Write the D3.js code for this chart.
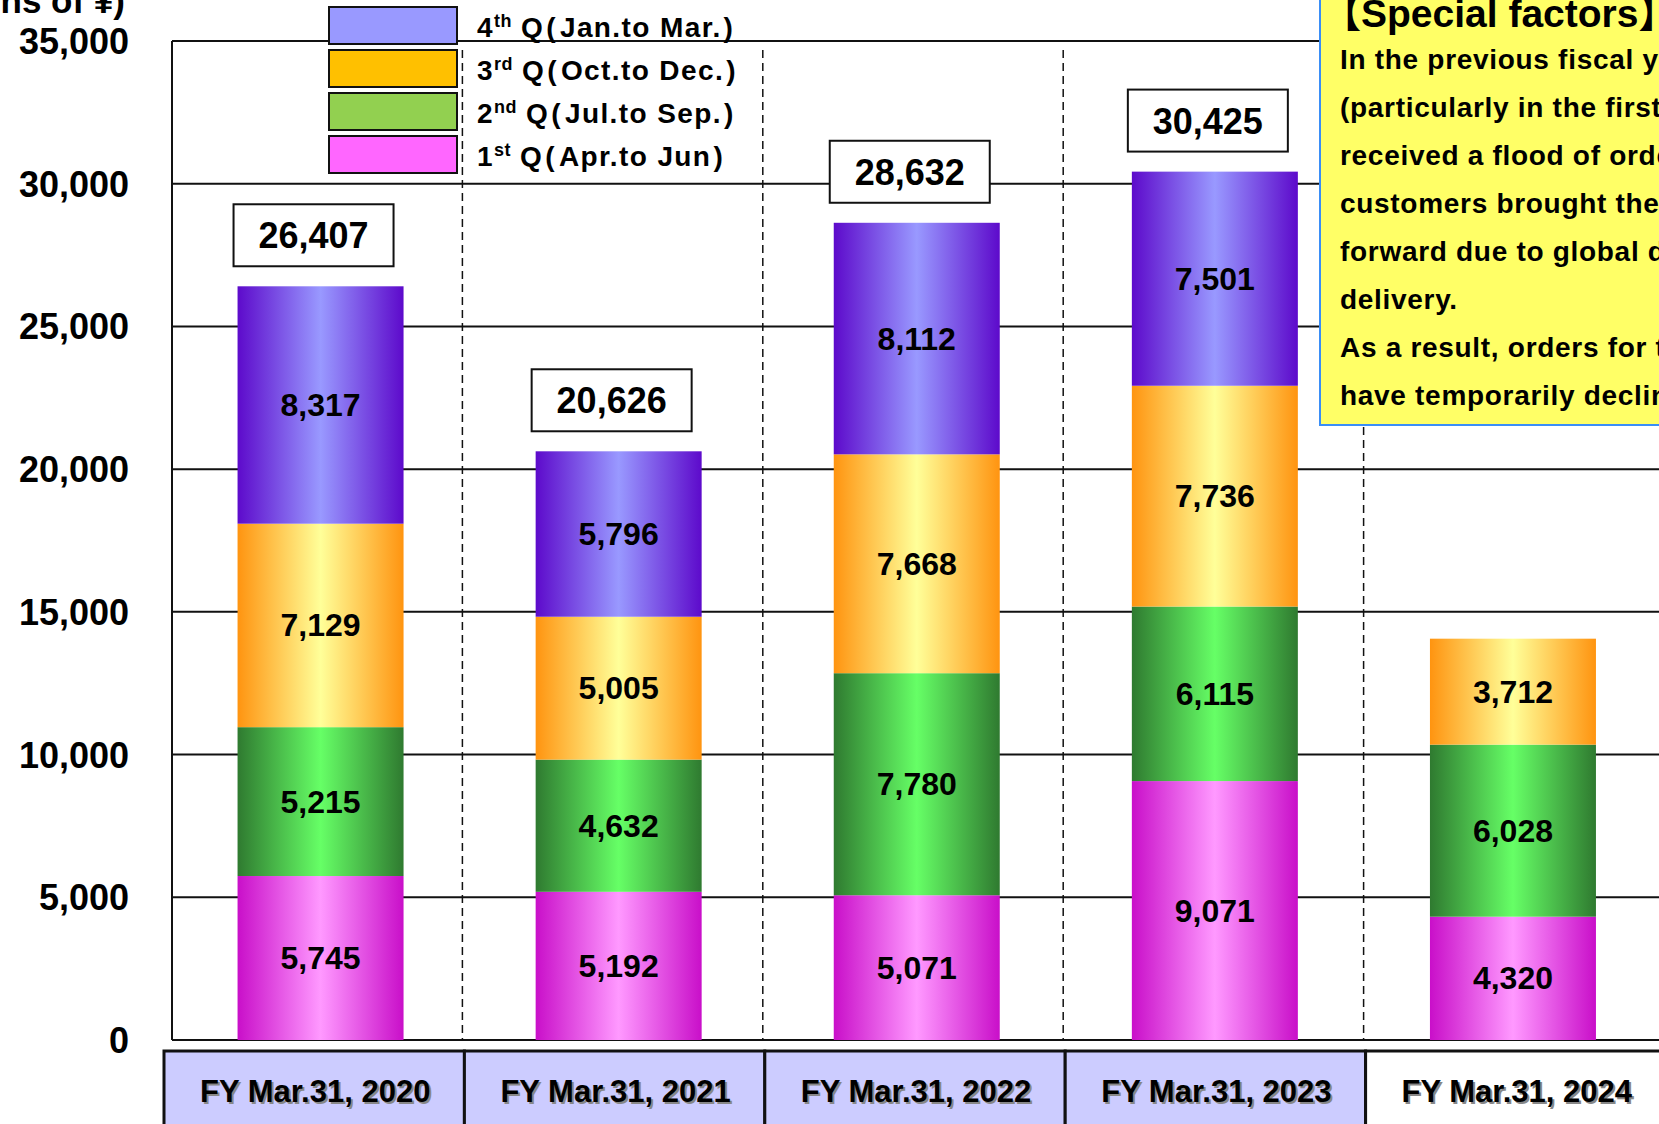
<!DOCTYPE html>
<html>
<head>
<script src="https://cdnjs.cloudflare.com/ajax/libs/d3/7.8.5/d3.min.js"></script>
<style>
  html, body { margin: 0; padding: 0; background: #fff; }
  svg { display: block; font-family: "Liberation Sans", Arial, "Noto Sans CJK JP", sans-serif; font-weight: bold; }
</style>
</head>
<body>
<svg id="chart" width="1659" height="1124"></svg>
<script>
// data (millions of yen)
var years = ["FY Mar.31, 2020", "FY Mar.31, 2021", "FY Mar.31, 2022", "FY Mar.31, 2023", "FY Mar.31, 2024"];
var q1 = [5745, 5192, 5071, 9071, 4320];
var q2 = [5215, 4632, 7780, 6115, 6028];
var q3 = [7129, 5005, 7668, 7736, 3712];
var q4 = [8317, 5796, 8112, 7501, null];
var totals = [26407, 20626, 28632, 30425, null];
var yTicks = [0, 5000, 10000, 15000, 20000, 25000, 30000, 35000];

var quarters = [
  {key: "q1", label: "1", sup: "st", text: "Apr.to Jun", values: q1, legend: "#ff66ff", dark: "#c90fc9", light: "#ff99ff"},
  {key: "q2", label: "2", sup: "nd", text: "Jul.to Sep.", values: q2, legend: "#92d050", dark: "#2f7a30", light: "#66ff66"},
  {key: "q3", label: "3", sup: "rd", text: "Oct.to Dec.", values: q3, legend: "#ffc000", dark: "#ff9410", light: "#ffff99"},
  {key: "q4", label: "4", sup: "th", text: "Jan.to Mar.", values: q4, legend: "#9999ff", dark: "#5d0acb", light: "#9999ff"}
];

var notes = [
  "In the previous fiscal year",
  "(particularly in the first half), we",
  "received a flood of orders as",
  "customers brought their orders",
  "forward due to global delays in",
  "delivery.",
  "As a result, orders for this fiscal year",
  "have temporarily declined."
];

var svg = d3.select("#chart");
var fmt = d3.format(",");

var plotLeft = 172, plotRight = 1659, plotTop = 41, plotBottom = 1040;
var y = d3.scaleLinear().domain([0, 35000]).range([plotBottom, plotTop]);
var x = d3.scaleBand().domain(years).range([162, 1664]);      // category cells
var xb = d3.scaleBand().domain(years).range([171.5, 1662]);   // bar slots
var barW = 166;

// gradients
var defs = svg.append("defs");
quarters.forEach(function(q) {
  var g = defs.append("linearGradient").attr("id", "grad_" + q.key)
    .attr("x1", "0").attr("x2", "1").attr("y1", "0").attr("y2", "0");
  g.append("stop").attr("offset", "0").attr("stop-color", q.dark);
  g.append("stop").attr("offset", "0.5").attr("stop-color", q.light);
  g.append("stop").attr("offset", "1").attr("stop-color", q.dark);
});

// gridlines
svg.selectAll(".grid").data(yTicks).enter().append("line")
  .attr("x1", plotLeft).attr("x2", plotRight)
  .attr("y1", function(d){ return y(d); }).attr("y2", function(d){ return y(d); })
  .attr("stroke", "#111").attr("stroke-width", 2);

svg.append("line").attr("x1", plotLeft).attr("x2", plotLeft)
  .attr("y1", plotTop).attr("y2", plotBottom)
  .attr("stroke", "#111").attr("stroke-width", 2);

// dashed separators
svg.selectAll(".sep").data(years.slice(1)).enter().append("line")
  .attr("x1", function(d){ return x(d); }).attr("x2", function(d){ return x(d); })
  .attr("y1", 50).attr("y2", plotBottom)
  .attr("stroke", "#111").attr("stroke-width", 1.5)
  .attr("stroke-dasharray", "8,5");

// y tick labels
svg.selectAll(".ytick").data(yTicks).enter().append("text")
  .attr("x", 129).attr("y", function(d){ return y(d) + 13; })
  .attr("text-anchor", "end").attr("font-size", 36)
  .text(function(d){ return fmt(d); });

svg.append("text").attr("x", 125).attr("y", 13)
  .attr("text-anchor", "end").attr("font-size", 35)
  .text("(Millions of ¥)");

// stacked bars
var rows = years.map(function(yr, i) {
  var r = {year: yr};
  quarters.forEach(function(q){ r[q.key] = q.values[i] || 0; });
  return r;
});
var stack = d3.stack().keys(quarters.map(function(q){ return q.key; }));
var series = stack(rows);

var layers = svg.selectAll(".layer").data(series).enter().append("g")
  .attr("fill", function(d){ return "url(#grad_" + d.key + ")"; });

layers.selectAll("rect").data(function(d){ return d.filter(function(s){ return s[1] > s[0]; }); })
  .enter().append("rect")
  .attr("x", function(d){ return xb(d.data.year) + xb.bandwidth() / 2 - barW / 2; })
  .attr("width", barW)
  .attr("y", function(d){ return y(d[1]); })
  .attr("height", function(d){ return y(d[0]) - y(d[1]); });

layers.selectAll("text").data(function(d){ return d.filter(function(s){ return s[1] > s[0]; }); })
  .enter().append("text")
  .attr("x", function(d){ return xb(d.data.year) + xb.bandwidth() / 2; })
  .attr("y", function(d){ return (y(d[0]) + y(d[1])) / 2 + 11; })
  .attr("text-anchor", "middle").attr("font-size", 32).attr("fill", "#000")
  .text(function(d){ return fmt(d[1] - d[0]); });

// total boxes
var totalData = years.map(function(yr, i){ return {year: yr, total: totals[i]}; })
  .filter(function(d){ return d.total; });
var tb = svg.selectAll(".total").data(totalData).enter().append("g");
tb.append("rect")
  .attr("x", function(d){ return xb(d.year) + xb.bandwidth() / 2 - 7 - 80; })
  .attr("y", function(d){ return y(d.total) - 20 - 62; })
  .attr("width", 160).attr("height", 62)
  .attr("fill", "#fff").attr("stroke", "#111").attr("stroke-width", 2);
tb.append("text")
  .attr("x", function(d){ return xb(d.year) + xb.bandwidth() / 2 - 7; })
  .attr("y", function(d){ return y(d.total) - 20 - 31 + 13; })
  .attr("text-anchor", "middle").attr("font-size", 36)
  .text(function(d){ return fmt(d.total); });

// legend
var legendOrder = quarters.slice().reverse();
var lg = svg.selectAll(".legend").data(legendOrder).enter().append("g")
  .attr("transform", function(d, i){ return "translate(329," + (7 + i * 43) + ")"; });
lg.append("rect").attr("width", 128).attr("height", 37)
  .attr("fill", function(d){ return d.legend; })
  .attr("stroke", "#111").attr("stroke-width", 2);
var lt = lg.append("text").attr("x", 148).attr("y", 30).attr("font-size", 28)
  .attr("letter-spacing", 1.4);
lt.append("tspan").text(function(d){ return d.label; });
lt.append("tspan").attr("dy", -10).attr("font-size", 18).attr("letter-spacing", 0.5)
  .text(function(d){ return d.sup; });
lt.append("tspan").attr("dy", 10).attr("dx", 9).text("Q");
lt.append("tspan").attr("dx", 2).text("(");
lt.append("tspan").attr("dx", 3).text(function(d){ return d.text; });
lt.append("tspan").attr("dx", 2).text(")");

// special factors box
var note = svg.append("g").attr("transform", "translate(1320,-5)");
note.append("rect").attr("width", 360).attr("height", 430)
  .attr("fill", "#ffff66").attr("stroke", "#3a8ef6").attr("stroke-width", 2);
note.append("text").attr("x", 2).attr("y", 32).attr("font-size", 39)
  .text("【Special factors】");
note.selectAll(".note").data(notes).enter().append("text")
  .attr("x", 20).attr("y", function(d, i){ return 74 + i * 48; })
  .attr("font-size", 28).attr("letter-spacing", 0.7)
  .text(function(d){ return d; });

// category label boxes
var cat = svg.selectAll(".cat").data(years).enter().append("g");
cat.append("rect")
  .attr("x", function(d){ return x(d) + 2; }).attr("y", 1051)
  .attr("width", x.bandwidth()).attr("height", 90)
  .attr("fill", function(d, i){ return i < 4 ? "#ccccff" : "#fff"; })
  .attr("stroke", "#111").attr("stroke-width", 3);
cat.append("text")
  .attr("x", function(d){ return x(d) + x.bandwidth() / 2 + 5; }).attr("y", 1104)
  .attr("text-anchor", "middle").attr("font-size", 31).attr("fill", "#888")
  .text(function(d){ return d; });
cat.append("text")
  .attr("x", function(d){ return x(d) + x.bandwidth() / 2 + 3; }).attr("y", 1102)
  .attr("text-anchor", "middle").attr("font-size", 31).attr("fill", "#000")
  .text(function(d){ return d; });
</script>
</body>
</html>
